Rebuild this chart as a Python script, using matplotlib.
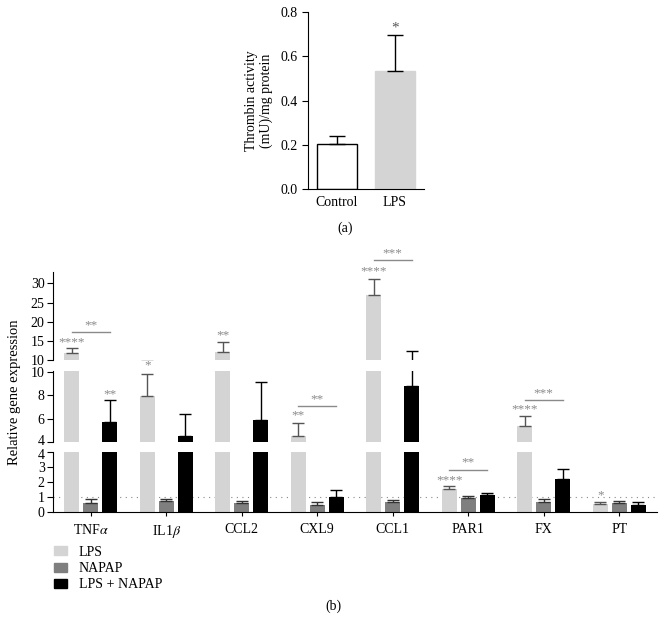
import matplotlib
matplotlib.use("Agg")
import matplotlib.pyplot as plt
import matplotlib.transforms as mtransforms
import numpy as np
from matplotlib.patches import Patch

plt.rcParams['font.family'] = ['Liberation Serif', 'DejaVu Serif']
plt.rcParams['mathtext.fontset'] = 'stix'
plt.rcParams['font.size'] = 10

# panel (a): thrombin activity
a_groups = ['Control', 'LPS']
a_values = [0.205, 0.534]
a_err = [0.035, 0.16]

# panel (b): relative gene expression
genes = ['TNF$\\alpha$', 'IL1$\\beta$', 'CCL2', 'CXL9', 'CCL1', 'PAR1', 'FX', 'PT']
lps = [11.8, 7.9, 12.1, 4.5, 27.0, 1.53, 5.35, 0.53]
lps_err = [1.3, 1.9, 2.6, 1.15, 4.3, 0.2, 0.85, 0.12]
napap = [0.62, 0.75, 0.6, 0.47, 0.67, 0.93, 0.69, 0.6]
napap_err = [0.25, 0.14, 0.13, 0.2, 0.13, 0.14, 0.18, 0.12]
combo = [5.7, 4.5, 5.9, 1.0, 8.8, 1.15, 2.2, 0.48]
combo_err = [1.85, 1.9, 3.2, 0.47, 3.5, 0.14, 0.67, 0.17]
series_names = ['LPS', 'NAPAP', 'LPS + NAPAP']

c_lps = '#d4d4d4'
c_nap = '#7f7f7f'
c_cmb = '#000000'
c_sig = '#8a8a8a'

W, H = 666, 632
fig = plt.figure(figsize=(W / 100, H / 100), dpi=100)


def box(l, t, r, b):
    return [l / W, 1 - b / H, (r - l) / W, (b - t) / H]


# ---- panel (a)
axa = fig.add_axes(box(308, 12, 424, 189))
xa = np.arange(len(a_groups))
axa.bar(xa, a_values, width=0.68, color=['white', c_lps],
        edgecolor=['black', c_lps], linewidth=1)
axa.errorbar(xa, a_values, yerr=[[0, 0], a_err], fmt='none', ecolor='black',
             elinewidth=1, capsize=6, capthick=1)
axa.text(1, a_values[1] + a_err[1] + 0.005, '*', ha='center', va='bottom',
         color='#555555', fontsize=11)
axa.set_xlim(-0.5, 1.5)
axa.set_ylim(0, 0.8)
axa.set_yticks([0, 0.2, 0.4, 0.6, 0.8])
axa.set_yticklabels(['0.0', '0.2', '0.4', '0.6', '0.8'])
axa.set_xticks(xa)
axa.set_xticklabels(a_groups)
axa.tick_params(axis='x', length=0, pad=5)
axa.tick_params(axis='y', length=4, direction='out')
axa.set_ylabel('Thrombin activity\n(mU)/mg protein', labelpad=5)
for s in ['top', 'right']:
    axa.spines[s].set_visible(False)
fig.text(345 / W, 1 - 228 / H, '(a)', ha='center', va='center')

# ---- panel (b): three stacked segments of a broken y axis
ax_top = fig.add_axes(box(53, 272, 657, 360))
ax_mid = fig.add_axes(box(53, 371, 657, 442))
ax_bot = fig.add_axes(box(53, 452, 657, 512))
segs = [(ax_top, (10, 33), [10, 15, 20, 25, 30]),
        (ax_mid, (4, 10.05), [4, 6, 8, 10]),
        (ax_bot, (0, 4.02), [0, 1, 2, 3, 4])]

x = np.arange(len(genes))
bw = 0.2
off = 0.25
for ax, lim, ticks in segs:
    for vals, errs, col, ecol, dx in [(lps, lps_err, c_lps, '#555555', -off),
                                      (napap, napap_err, c_nap, '#333333', 0),
                                      (combo, combo_err, c_cmb, '#000000', off)]:
        ax.bar(x + dx, vals, width=bw, color=col, linewidth=0)
        ax.errorbar(x + dx, vals, yerr=[np.zeros(len(vals)), errs], fmt='none',
                    ecolor=ecol, elinewidth=1, capsize=4, capthick=1)
    ax.set_xlim(-0.5, 7.5)
    ax.set_ylim(*lim)
    ax.set_yticks(ticks)
    ax.tick_params(axis='y', length=4, direction='out', pad=2)
    for s in ['top', 'right']:
        ax.spines[s].set_visible(False)
    if ax is not ax_bot:
        ax.spines['bottom'].set_visible(False)
        ax.set_xticks([])

# nudge the paired "4" labels at the axis break apart a little
lab_mid4 = ax_mid.get_yticklabels()[0]
lab_mid4.set_transform(lab_mid4.get_transform() +
                       mtransforms.ScaledTranslation(0, 2 / 100, fig.dpi_scale_trans))
lab_bot4 = ax_bot.get_yticklabels()[-1]
lab_bot4.set_transform(lab_bot4.get_transform() +
                       mtransforms.ScaledTranslation(0, -2 / 100, fig.dpi_scale_trans))

ax_bot.axhline(1, color='#888888', linestyle=(0, (1, 4)), linewidth=0.8, zorder=0)
ax_bot.set_xticks(x)
ax_bot.set_xticklabels(genes)
ax_bot.tick_params(axis='x', length=3, pad=5)

fig.text(15 / W, 1 - 392 / H, 'Relative gene expression', rotation=90,
         ha='center', va='center', fontsize=10.5)


def stars(ax, xc, y, s):
    ax.text(xc, y, s, ha='center', va='center', color=c_sig, fontsize=9.5,
            clip_on=False)


def bracket(ax, x0, x1, y, s, dy):
    ax.plot([x0, x1], [y, y], color=c_sig, linewidth=1, clip_on=False)
    stars(ax, (x0 + x1) / 2, y + dy, s)


# significance marks
stars(ax_top, 0 - off, 14.6, '****')
bracket(ax_top, 0 - off, 0 + off, 17.3, '**', 1.8)
stars(ax_mid, 0 + off, 8.1, '**')
stars(ax_mid, 1 - off, 10.5, '*')
stars(ax_top, 2 - off, 16.5, '**')
stars(ax_mid, 3 - off, 6.3, '**')
bracket(ax_mid, 3 - off, 3 + off, 7.05, '**', 0.6)
stars(ax_top, 4 - off, 33.1, '****')
bracket(ax_top, 4 - off, 4 + off, 36.2, '***', 1.6)
stars(ax_bot, 5 - off, 2.1, '****')
bracket(ax_bot, 5 - off, 5 + off, 2.8, '**', 0.5)
stars(ax_mid, 6 - off, 6.8, '****')
bracket(ax_mid, 6 - off, 6 + off, 7.55, '***', 0.6)
stars(ax_bot, 7 - off, 1.15, '*')

handles = [Patch(color=c_lps), Patch(color=c_nap), Patch(color=c_cmb)]
fig.legend(handles, series_names, loc='upper left',
           bbox_to_anchor=(48 / W, 1 - 540 / H), frameon=False,
           handlelength=1.0, handleheight=0.6, labelspacing=0.25,
           handletextpad=0.8, borderaxespad=0)
fig.text(333 / W, 1 - 606 / H, '(b)', ha='center', va='center')

fig.savefig('out.png', dpi=100)
